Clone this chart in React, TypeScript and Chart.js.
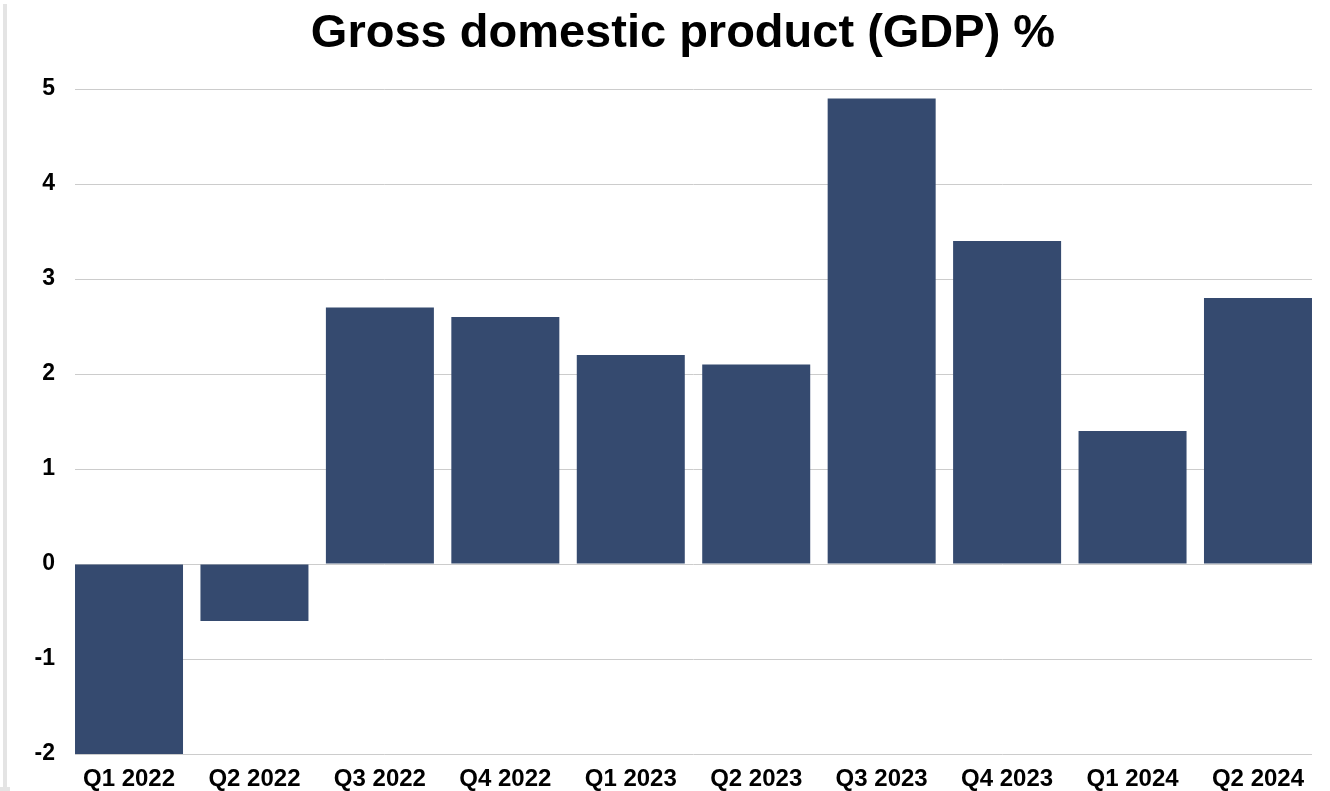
import React, { useEffect, useRef } from "react";
import { Chart, registerables } from "chart.js";

Chart.register(...registerables);

const categories = [
  "Q1 2022", "Q2 2022", "Q3 2022", "Q4 2022", "Q1 2023",
  "Q2 2023", "Q3 2023", "Q4 2023", "Q1 2024", "Q2 2024",
];
const gdpValues = [-2.0, -0.6, 2.7, 2.6, 2.2, 2.1, 4.9, 3.4, 1.4, 2.8];
const yTicks = [-2, -1, 0, 1, 2, 3, 4, 5];
const titleText = "Gross domestic product (GDP) %";

const FONT = "'Liberation Sans', Arial, Helvetica, sans-serif";

export default function App() {
  const canvasRef = useRef<HTMLCanvasElement | null>(null);

  useEffect(() => {
    document.body.style.margin = "0";
    const canvas = canvasRef.current;
    if (!canvas) return;
    const half = 0.4306;
    const chart = new Chart(canvas, {
      type: "bar",
      data: {
        datasets: [
          {
            label: "GDP %",
            data: gdpValues.map((v, i) => ({ x: i, y: v })),
            backgroundColor: "#354a6f",
            borderWidth: 0,
            barPercentage: 0.861,
            categoryPercentage: 1,
          },
        ],
      },
      options: {
        animation: false,
        responsive: false,
        maintainAspectRatio: false,
        layout: { padding: { left: 0, right: 18, top: 89, bottom: 0 } },
        plugins: {
          legend: { display: false },
          tooltip: { enabled: false },
          title: { display: false },
        },
        scales: {
          x: {
            type: "linear",
            offset: false,
            min: -half,
            max: gdpValues.length - 1 + half,
            grid: { display: false, drawTicks: false },
            border: { display: false },
            afterFit: (scale: any) => {
              scale.height = 37;
            },
            ticks: {
              stepSize: 1,
              includeBounds: false,
              autoSkip: false,
              maxRotation: 0,
              minRotation: 0,
              padding: 11,
              color: "#000000",
              font: { family: FONT, size: 24, weight: "bold", lineHeight: 1.2 },
              callback: (v: any) =>
                Number.isInteger(v) && v >= 0 && v < categories.length ? categories[v] : "",
            },
          },
          y: {
            min: yTicks[0],
            max: yTicks[yTicks.length - 1],
            afterFit: (scale: any) => {
              scale.width = 75;
            },
            afterBuildTicks: (scale: any) => {
              scale.ticks = yTicks.map((v) => ({ value: v }));
            },
            grid: { color: "#cccccc", lineWidth: 1, drawTicks: false },
            border: { display: false },
            ticks: {
              padding: 20,
              color: "#000000",
              font: { family: FONT, size: 23, weight: "bold", lineHeight: 1.2 },
            },
          },
        },
      },
    });
    return () => chart.destroy();
  }, []);

  return (
    <div style={{ position: "relative", width: 1330, height: 791, background: "#ffffff" }}>
      <div
        style={{
          position: "absolute",
          left: 3,
          top: 4,
          width: 4,
          height: 784,
          background: "#e4e4e4",
        }}
      />
      <div
        style={{
          position: "absolute",
          left: 0,
          top: 787,
          width: 10,
          height: 4,
          background: "#e4e4e4",
        }}
      />
      <canvas
        ref={canvasRef}
        width={1330}
        height={791}
        style={{ position: "absolute", left: 0, top: 0, display: "block" }}
      />
      <div
        style={{
          position: "absolute",
          left: 36,
          width: 1294,
          top: 3,
          textAlign: "center",
          fontFamily: FONT,
          fontWeight: "bold",
          fontSize: 47,
          lineHeight: 1.2,
          color: "#000000",
          whiteSpace: "nowrap",
        }}
      >
        {titleText}
      </div>
    </div>
  );
}
